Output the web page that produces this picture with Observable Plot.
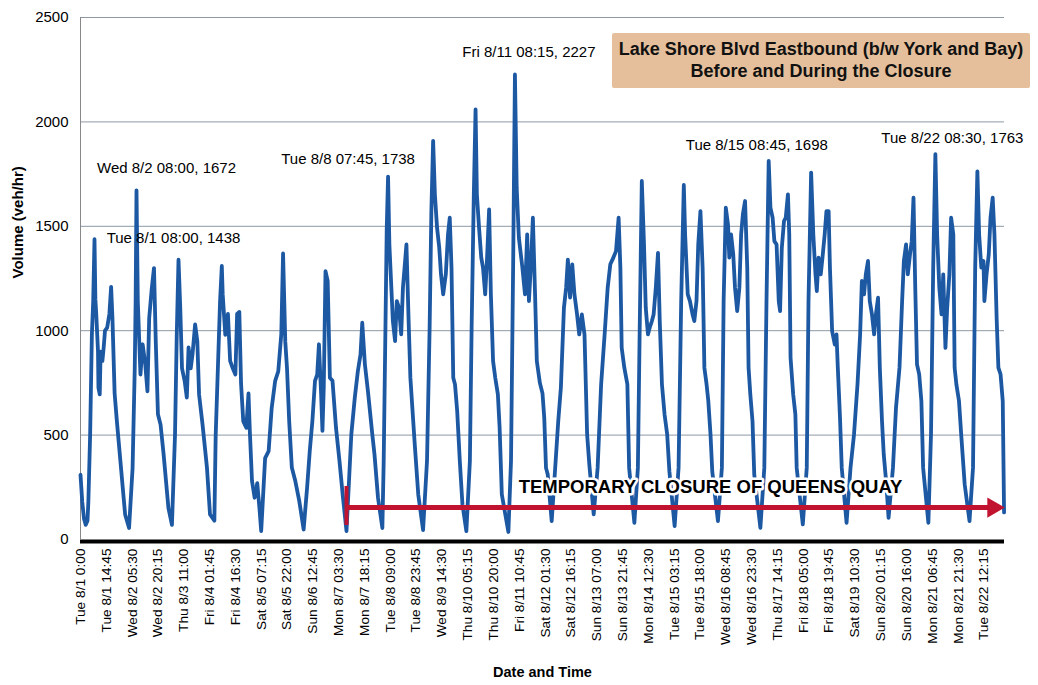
<!DOCTYPE html>
<html>
<head>
<meta charset="utf-8">
<script src="https://cdn.jsdelivr.net/npm/d3@7"></script>
<script src="https://cdn.jsdelivr.net/npm/@observablehq/plot@0.6"></script>
<style>
  html, body { margin: 0; padding: 0; background: #fff; }
  #wrap { position: relative; width: 1038px; height: 685px; font-family: "Liberation Sans", Arial, sans-serif; }
  #title {
    position: absolute; left: 612px; top: 33px; width: 418px; height: 55px;
    background: #e5bf9b; border-radius: 2px; box-sizing: border-box;
    font-weight: bold; font-size: 18px; line-height: 22px; text-align: center;
    padding-top: 5px; color: #111;
  }
</style>
</head>
<body>
<div id="wrap"></div>
<script>
// ---- Data: [clock hour, volume veh/hr] per day (Aug 2017) ----
const aug01 = [[0,310],[1,180],[2,100],[3,70],[4,90],[4.5,184],[5.5,500],[6.5,980],[7.25,1140],[8,1438],[8.5,1150],[9,1080],[10,900],[10.25,727],[11,695],[11.5,900],[12.5,855],[13.25,920],[14,1000],[15.25,1015],[16.5,1080],[17.5,1210],[18.25,1060],[19.5,700],[20.75,570],[22.75,380]];
const aug02 = [[1.5,120],[3.75,55],[5.75,340],[7,820],[7.5,1140],[8,1672],[8.75,1140],[10.25,790],[11.5,935],[13,840],[14.25,710],[15.25,1060],[16.75,1205],[18,1300],[19,950],[20.25,600],[21.75,550],[23.5,407]];
const aug03 = [[2.25,150],[4.25,70],[6,500],[7,980],[8,1340],[9,1110],[10,820],[11.5,760],[12.75,680],[13.75,920],[15,820],[16,887],[17.5,1030],[18.75,950],[19.75,695],[21.75,550]];
const aug04 = [[0.25,345],[2,120],[4.5,90],[5.25,500],[6.5,820],[7.75,1140],[8.75,1310],[9.25,1175],[10.75,980],[12.25,1080],[13.5,855],[15,820],[16.5,790],[17.5,1080],[18.75,1090],[19.75,745],[21,567],[22.75,535]];
const aug05 = [[0,700],[0.75,520],[2,280],[3.5,200],[5,270],[6.25,150],[7.25,40],[9.5,390],[11.5,423],[13.25,630],[15.25,760],[17,805],[18.75,985],[19.75,1370],[21,950],[22,820],[23.25,567]];
const aug06 = [[0.75,345],[2.75,280],[5,185],[7.5,48],[9.5,250],[11,423],[12.5,567],[14,760],[15.25,790],[16.25,935],[17.5,695],[18.25,520],[19,727],[20,1285],[21.25,1238],[22.5,775]];
const aug07 = [[0,760],[2,535],[4,375],[6,200],[8,40],[10.75,503],[12.75,680],[14.5,807],[16,886],[17,1038],[18.5,840],[20.25,710],[22.75,503]];
const aug08 = [[0,407],[2,200],[4.5,55],[5.25,375],[6.25,1014],[7,1493],[7.75,1738],[8.5,1413],[10.5,1046],[11.75,950],[12.75,1142],[14,1110],[15.25,982],[16.25,1206],[17.5,1334],[18.25,1413],[19.5,1046],[20.5,775],[21.75,615],[23,455]];
const aug09 = [[1,216],[3.75,45],[6,375],[7.5,1014],[8.5,1573],[9.5,1909],[10.5,1653],[11.75,1493],[13,1397],[14,1270],[15.25,1174],[16.75,1270],[18,1461],[19,1541],[20,1302],[21,775],[22,743],[23.25,615]];
const aug10 = [[0.75,375],[2.25,168],[4.5,40],[6.5,375],[7.5,1014],[8.75,1653],[9.75,2060],[10.5,1653],[11.75,1493],[13,1350],[14,1302],[15.25,1174],[16.25,1334],[17.5,1581],[18.5,1174],[19.75,855],[21,775],[22.5,695],[23.5,535]];
const aug11 = [[0.75,216],[4.5,36],[6,375],[7.25,1334],[8.25,2227],[9.25,1685],[10.5,1445],[12.5,1302],[14,1174],[15.25,1461],[16.25,1142],[17.5,1334],[18.5,1541],[19.75,1174],[20.75,855],[22.5,750]];
const aug12 = [[0,700],[1,583],[2,343],[3,311],[5.25,88],[7.25,343],[9,567],[10.5,727],[12.25,1110],[13.5,1206],[14.5,1340],[15.75,1158],[17,1318],[18.25,1174],[19.75,1078],[21,982],[22.5,1078]];
const aug13 = [[0,982],[1.5,503],[2.75,360],[5.25,120],[7.5,343],[9.5,743],[11.5,982],[13.25,1206],[14.75,1318],[16.5,1350],[18,1381],[19.5,1541],[20.5,1302],[21.25,918],[22.75,823]];
const aug14 = [[0.5,743],[1.5,343],[4.5,80],[6.5,343],[7.5,982],[8.75,1717],[10,1413],[11,1110],[12.25,982],[13.25,1014],[14.5,1046],[15.5,1078],[16.75,1206],[18,1373],[19,1046],[20.25,743],[21.75,599],[23.25,503]];
const aug15 = [[0.5,327],[3.5,64],[5.75,343],[7.25,1142],[8.75,1698],[9.5,1461],[11,1174],[12.25,1142],[13.75,1078],[14.75,1046],[16,1142],[17,1413],[18.25,1573],[19.5,1302],[20.5,823],[21.75,743],[22.75,663]];
const aug16 = [[0,503],[1,327],[4.25,88],[6.5,343],[7.5,1142],[8.75,1589],[10,1509],[10.75,1350],[11.75,1461],[13,1365],[14,1206],[15.25,1094],[16.5,1206],[17.5,1461],[18.5,1557],[19.75,1621],[21,1302],[21.75,823],[22.75,695]];
const aug17 = [[0,567],[1,311],[4.5,56],[6.75,343],[8,1142],[9.25,1813],[10.25,1589],[11.5,1541],[12.5,1429],[13.75,1413],[15,1142],[15.75,1094],[16.75,1397],[18,1525],[19,1541],[20.25,1653],[21,1461],[21.75,870],[23.25,695]];
const aug18 = [[0.5,599],[1.25,343],[4.75,72],[7,343],[8,1142],[9.5,1757],[10.75,1461],[12,1270],[12.75,1190],[13.75,1350],[15,1270],[16,1350],[17.25,1461],[18.25,1573],[19.5,1573],[20.25,1302],[21.5,998],[23,934]];
const aug19 = [[0,982],[0.75,823],[2,583],[3,343],[5.75,80],[8,343],[10,503],[12,743],[13.5,982],[14.5,1238],[15.75,1174],[16.75,1270],[18,1334],[19,1142],[20.25,1078],[21.5,982],[22.5,1078],[23.75,1158]];
const aug20 = [[0.75,823],[2,567],[3,407],[4.5,264],[5.75,104],[8.25,343],[10,631],[12,823],[13.5,1142],[14.5,1334],[15.75,1413],[16.75,1270],[18,1365],[19,1429],[20,1637],[21,1206],[22,839],[23.25,791]];
const aug21 = [[0.5,663],[1.5,343],[4.5,80],[6,503],[7.25,1302],[8.5,1845],[9.5,1461],[10.75,1206],[12,1078],[13,1270],[14.25,918],[15.25,1110],[16.5,1270],[17.5,1541],[18.75,1461],[19.5,823],[20.5,743],[22,663],[23.25,503]];
const aug22 = [[1.25,264],[4,88],[6,343],[7.25,1302],[8.5,1763],[9.5,1461],[10.75,1302],[12,1334],[12.5,1142],[13.75,1270],[15,1365],[16,1541],[17.25,1637],[18.25,1461],[19.5,1062],[20.5,823],[21.75,791],[23,663],[23.75,130]];
const dayArrays = [aug01,aug02,aug03,aug04,aug05,aug06,aug07,aug08,aug09,aug10,aug11,aug12,aug13,aug14,aug15,aug16,aug17,aug18,aug19,aug20,aug21,aug22];

// x-axis tick labels (every 59 fifteen-minute intervals)
const tickLabels = ["Tue 8/1 0:00","Tue 8/1 14:45","Wed 8/2 05:30","Wed 8/2 20:15","Thu 8/3 11:00","Fri 8/4 01:45","Fri 8/4 16:30","Sat 8/5 07:15","Sat 8/5 22:00","Sun 8/6 12:45","Mon 8/7 03:30","Mon 8/7 18:15","Tue 8/8 09:00","Tue 8/8 23:45","Wed 8/9 14:30","Thu 8/10 05:15","Thu 8/10 20:00","Fri 8/11 10:45","Sat 8/12 01:30","Sat 8/12 16:15","Sun 8/13 07:00","Sun 8/13 21:45","Mon 8/14 12:30","Tue 8/15 03:15","Tue 8/15 18:00","Wed 8/16 08:45","Wed 8/16 23:30","Thu 8/17 14:15","Fri 8/18 05:00","Fri 8/18 19:45","Sat 8/19 10:30","Sun 8/20 01:15","Sun 8/20 16:00","Mon 8/21 06:45","Mon 8/21 21:30","Tue 8/22 12:15"];
const yTicks = [0, 500, 1000, 1500, 2000, 2500];

// labelled peaks
const peakTimes = ["Tue 8/1 08:00","Wed 8/2 08:00","Tue 8/8 07:45","Fri 8/11 08:15","Tue 8/15 08:45","Tue 8/22 08:30"];
const peakValues = [1438, 1672, 1738, 2227, 1698, 1763];

// closure period
const closureStart = "Mon 8/7 08:00";
const closureEnd = "Tue 8/22 23:45";
const closureText = "TEMPORARY CLOSURE OF QUEENS QUAY";

// ---- build ----
const parse = s => { const m = s.match(/(\d+)\/(\d+) (\d+):(\d+)/); return new Date(Date.UTC(2017, +m[1]-1, +m[2], +m[3], +m[4])); };
const data = dayArrays.flatMap((arr, d) => arr.map(([h, v]) => ({t: new Date(Date.UTC(2017, 7, 1 + d) + h * 3600e3), v})));
const tickDates = tickLabels.map(parse);
const labelOf = new Map(tickDates.map((d, i) => [+d, tickLabels[i]]));
const peaks = peakTimes.map((s, i) => ({t: parse(s), v: peakValues[i], text: `${s}, ${peakValues[i]}`}));
const cStart = parse(closureStart), cEnd = parse(closureEnd);
const arrowY = 153;
// annotation offsets (px) relative to the peak
const offs = [[79,-1],[30,-22],[-40,-17],[14,-22],[73,-40],[-25,-33]];

const font = '"Liberation Sans", Arial, sans-serif';
const chart = Plot.plot({
  width: 1038, height: 685,
  marginLeft: 80, marginRight: 34, marginTop: 17, marginBottom: 146,
  style: {fontFamily: font, fontSize: "13.7px", color: "#000", background: "#fff"},
  x: {type: "utc", domain: [new Date(Date.UTC(2017,7,1)), new Date(Date.UTC(2017,7,23))], ticks: tickDates,
      tickFormat: d => labelOf.get(+d), tickRotate: -90, tickSize: 0, tickPadding: 9, label: null},
  y: {domain: [0, 2500], ticks: yTicks, tickFormat: d => String(d), tickSize: 0, tickPadding: 12, label: null},
  marks: [
    Plot.ruleY(yTicks.filter(d => d > 0), {stroke: "#8e99a4", strokeWidth: 1}),
    Plot.ruleX([new Date(Date.UTC(2017,7,1))], {stroke: "#888", strokeWidth: 1}),
    Plot.line(data, {x: "t", y: "v", stroke: "#1d58a3", strokeWidth: 3.8, strokeLinejoin: "round"}),
    Plot.text([closureText], {x: parse("Wed 8/16 00:00"), y: 250, fontSize: 18.5, fontWeight: "bold", fill: "#000", stroke: "#fff", strokeWidth: 5, textAnchor: "middle"}),
    Plot.ruleY([arrowY], {x1: cStart, x2: parse("Tue 8/22 19:00"), stroke: "#c1122f", strokeWidth: 5}),
    Plot.ruleX([cStart], {y1: 67, y2: 254, stroke: "#c1122f", strokeWidth: 4}),
    Plot.dot([arrowY], {x: parse("Tue 8/22 17:30"), y: d => d, symbol: "triangle", r: 7.5, rotate: 90, fill: "#c1122f", stroke: "none"}),
    Plot.ruleY([0], {stroke: "#000", strokeWidth: 4, dy: 2}),
    ...peaks.map((p, i) => Plot.text([p], {x: "t", y: "v", text: "text", dx: offs[i][0], dy: offs[i][1], fontSize: 15, fill: "#000", textAnchor: "middle"})),
    Plot.text(["Volume (veh/hr)"], {frameAnchor: "left", dx: -62, rotate: -90, fontWeight: "bold", fontSize: 15}),
    Plot.text(["Date and Time"], {frameAnchor: "bottom", dy: 137, fontWeight: "bold", fontSize: 14.5})
  ]
});
// slightly larger y-axis tick labels
chart.querySelectorAll('g[aria-label^="y-axis"]').forEach(g => g.setAttribute("font-size", "15"));
const wrap = document.getElementById("wrap");
wrap.appendChild(chart);
const title = document.createElement("div");
title.id = "title";
title.innerHTML = "Lake Shore Blvd Eastbound (b/w York and Bay)<br>Before and During the Closure";
wrap.appendChild(title);
</script>
</body>
</html>
